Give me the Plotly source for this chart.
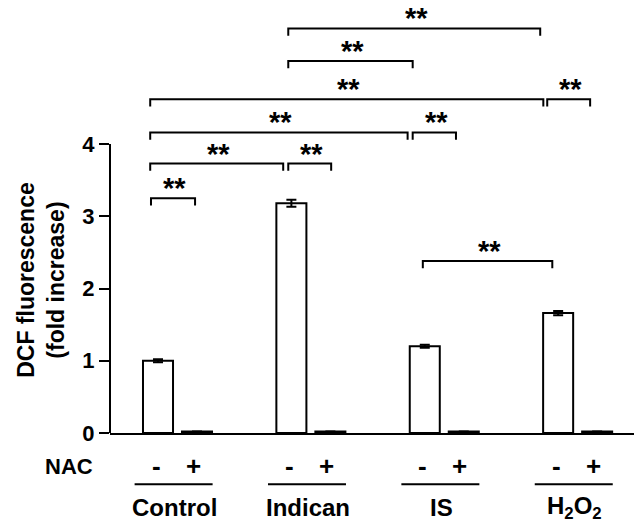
import plotly.graph_objects as go

# ---- data ----
groups = ["Control", "Indican", "IS", "H<sub>2</sub>O<sub>2</sub>"]
nac_labels = ["-", "+"]
values = [1.00, 0.02, 3.18, 0.02, 1.20, 0.02, 1.66, 0.02]
errors = [0.02, 0.0, 0.05, 0.0, 0.02, 0.0, 0.03, 0.0]
y_ticks = [0, 1, 2, 3, 4]
# significance brackets: (left bar index, right bar index, height)
bracket_pairs = [(0, 1), (0, 2), (2, 3), (0, 4), (4, 5), (0, 6), (6, 7), (2, 4), (2, 6), (4, 6)]
bracket_levels = [3.25, 3.73, 3.73, 4.16, 4.16, 4.62, 4.62, 5.15, 5.60, 2.38]
bracket_labels = ["**"] * 10

# ---- layout helpers ----
GROUP_STEP = 3.42
xs = [g * GROUP_STEP + k for g in range(len(groups)) for k in range(len(nac_labels))]
bracket_offsets = [(-0.18, -0.05), (-0.2, -0.21), (-0.08, 0.02), (-0.2, -0.44), (-0.31, -0.2),
                   (-0.2, -0.38), (-0.28, -0.18), (-0.08, -0.31), (-0.08, -0.46), (-0.05, -0.15)]

FONT = "Liberation Sans, Arial, sans-serif"
LW = 2
PLOT_H = 433

fig = go.Figure()
fig.add_trace(go.Bar(
    x=xs, y=values, width=0.77,
    marker=dict(color="white", line=dict(color="black", width=LW)),
    error_y=dict(type="data", array=errors, visible=True, color="black", thickness=LW, width=5),
    cliponaxis=False, showlegend=False,
))

shapes = []
annotations = []
# y axis line only from 0 to 4
shapes.append(dict(type="line", xref="paper", yref="y", x0=0, x1=0, y0=0, y1=max(y_ticks),
                   line=dict(color="black", width=LW)))

tick_drop = 0.1
for (i, j), lvl, (ol, orr), lab in zip(bracket_pairs, bracket_levels, bracket_offsets, bracket_labels):
    x0 = xs[i] + ol
    x1 = xs[j] + orr
    shapes.append(dict(type="path", xref="x", yref="y",
                       path=f"M {x0},{lvl - tick_drop} L {x0},{lvl} L {x1},{lvl} L {x1},{lvl - tick_drop}",
                       line=dict(color="black", width=LW)))
    annotations.append(dict(x=(x0 + x1) / 2 + 0.05, y=lvl, xref="x", yref="y", text=f"<b>{lab}</b>",
                            showarrow=False, yanchor="middle", yshift=10,
                            font=dict(family=FONT, size=29, color="black")))

# NAC +/- labels, underlines and group labels
for g, name in enumerate(groups):
    for k, s in enumerate(nac_labels):
        annotations.append(dict(x=xs[g * 2 + k] + (-0.05 if k == 0 else -0.1), y=0, xref="x", yref="paper",
                                text=f"<b>{s}</b>", showarrow=False, yanchor="middle", yshift=-33,
                                font=dict(family=FONT, size=26, color="black")))
    cx = (xs[g * 2] + xs[g * 2 + 1]) / 2
    shapes.append(dict(type="line", xref="x", yref="paper", x0=cx - 1.1, x1=cx + 0.9,
                       y0=-51.3 / PLOT_H, y1=-51.3 / PLOT_H, line=dict(color="black", width=LW)))
    annotations.append(dict(x=cx - 0.07, y=0, xref="x", yref="paper", text=f"<b>{name}</b>",
                            showarrow=False, yanchor="middle", yshift=-74,
                            font=dict(family=FONT, size=24, color="black")))

annotations.append(dict(x=0, y=0, xref="paper", yref="paper", text="<b>NAC</b>", showarrow=False,
                        xanchor="center", yanchor="middle", xshift=-41, yshift=-33,
                        font=dict(family=FONT, size=22, color="black")))
annotations.append(dict(x=0, y=2.12, xref="paper", yref="y",
                        text="<b>DCF fluorescence<br>(fold increase)</b>", showarrow=False,
                        textangle=-90, xanchor="center", yanchor="middle", xshift=-69,
                        font=dict(family=FONT, size=23, color="black")))

fig.update_layout(
    width=634, height=525,
    margin=dict(l=110, r=0, t=0, b=92),
    plot_bgcolor="white", paper_bgcolor="white",
    font=dict(family=FONT, color="black"),
    xaxis=dict(range=[-1.231, 12.205], showline=True, linecolor="black", linewidth=LW,
               showticklabels=False, ticks="", showgrid=False, zeroline=False, fixedrange=True),
    yaxis=dict(range=[0, PLOT_H / 72.25], tickvals=y_ticks, ticktext=[f"<b>{t}</b>" for t in y_ticks],
               ticks="outside", ticklen=10, tickwidth=LW, tickcolor="black",
               tickfont=dict(family=FONT, size=22, color="black"),
               showline=False, showgrid=False, zeroline=False, fixedrange=True),
    shapes=shapes, annotations=annotations,
)
fig.write_html("out.html")
